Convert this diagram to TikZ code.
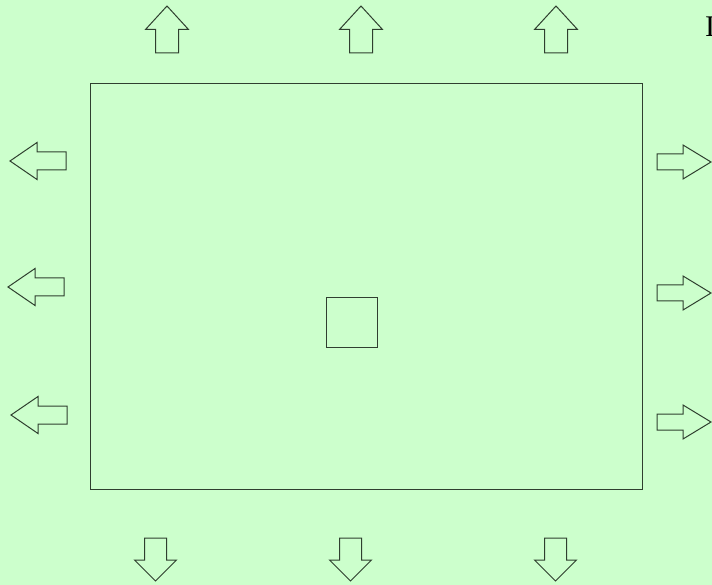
\documentclass[tikz,border=0pt]{standalone}
\usepackage{fontspec}
\setmainfont{Liberation Serif}
\definecolor{bgcol}{HTML}{CCFFCC}
\definecolor{linecol}{HTML}{2F3F2F}
\tikzset{
  arr/.style={draw=linecol, line width=1pt, line join=miter},
  frame/.style={draw=linecol, line width=1.2pt},
}
% up arrow: tip at (#1,#2)
\newcommand\arrUp[2]{\draw[arr] (#1,#2) -- ++(21.5,23.5) -- ++(-10,0) -- ++(0,23.5) -- ++(-23,0) -- ++(0,-23.5) -- ++(-10,0) -- cycle;}
% down arrow: tip at (#1,#2)
\newcommand\arrDown[2]{\draw[arr] (#1,#2) -- ++(21,-21) -- ++(-10,0) -- ++(0,-22) -- ++(-22,0) -- ++(0,22) -- ++(-10,0) -- cycle;}
% left arrow: tip at (#1,#2)
\newcommand\arrLeft[2]{\draw[arr] (#1,#2) -- ++(27,-18.5) -- ++(0,9.5) -- ++(29,0) -- ++(0,18) -- ++(-29,0) -- ++(0,9.5) -- cycle;}
% right arrow: tip at (#1,#2)
\newcommand\arrRight[2]{\draw[arr] (#1,#2) -- ++(-28,-17) -- ++(0,9) -- ++(-26,0) -- ++(0,16) -- ++(26,0) -- ++(0,9) -- cycle;}
\begin{document}
\begin{tikzpicture}[x=1pt,y=-1pt]
\fill[bgcol] (0,0) rectangle (712,585);
\useasboundingbox (0,0) rectangle (712,585);
% main frame
\node[frame, minimum width=552pt, minimum height=406pt, inner sep=0pt, anchor=north west] (room) at (90,83) {};
% centre square
\node[frame, minimum width=51pt, minimum height=50pt, inner sep=0pt, anchor=north west] (box) at (326,297) {};
% arrows
\arrUp{167}{6}
\arrUp{361}{6}
\arrUp{556}{6}
\arrDown{155.5}{581}
\arrDown{350.5}{581}
\arrDown{555.5}{581}
\arrLeft{10}{161}
\arrLeft{8}{287}
\arrLeft{11}{415}
\arrRight{711}{162}
\arrRight{711}{293}
\arrRight{711}{422}
% clipped letter at the top right
\node[anchor=west, inner sep=0pt, font=\fontsize{30}{30}\selectfont] (lbl) at (705,27) {I};
\end{tikzpicture}
\end{document}
